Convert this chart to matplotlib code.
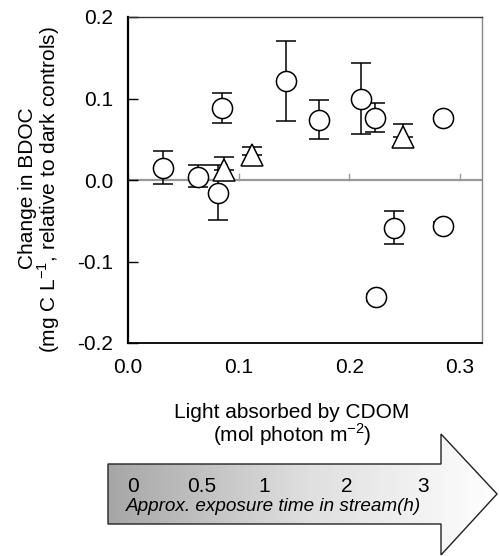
import numpy as np
import matplotlib
matplotlib.use("Agg")
import matplotlib.pyplot as plt
from matplotlib.patches import Polygon
from matplotlib.colors import LinearSegmentedColormap

plt.rcParams['font.family'] = ['Liberation Sans', 'DejaVu Sans']
plt.rcParams['mathtext.fontset'] = 'custom'
plt.rcParams['mathtext.rm'] = 'Liberation Sans'

# circles: light absorbed, change in BDOC, lower / upper error
circ_x = [0.032, 0.063, 0.081, 0.085, 0.143, 0.173, 0.211, 0.223, 0.285, 0.240, 0.224, 0.285]
circ_y = [0.015, 0.004, -0.016, 0.088, 0.122, 0.074, 0.099, 0.076, 0.076, -0.059, -0.144, -0.056]
circ_lo = [0.020, 0.013, 0.033, 0.018, 0.049, 0.024, 0.042, 0.017, 0.004, 0.020, 0.004, 0.004]
circ_hi = [0.021, 0.014, 0.034, 0.019, 0.049, 0.024, 0.045, 0.018, 0.004, 0.021, 0.004, 0.004]

# triangles
tri_x = [0.087, 0.112, 0.249]
tri_y = [0.012, 0.031, 0.053]
tri_lo = [0.0, 0.0, 0.0]
tri_hi = [0.016, 0.009, 0.016]

xticks = [0.0, 0.1, 0.2, 0.3]
yticks = [-0.2, -0.1, 0.0, 0.1, 0.2]

hours = ["0", "0.5", "1", "2", "3"]
hour_px = [133, 202, 264, 347, 423]

FS = 15
W, H = 499, 556
fig = plt.figure(figsize=(W / 100, H / 100), dpi=100)
ax = fig.add_axes([128 / W, 1 - 343 / H, (482 - 128) / W, (343 - 17) / H])

ax.axhline(0, color='#999999', lw=1.6, zorder=1)

ax.errorbar(circ_x, circ_y, yerr=[circ_lo, circ_hi], fmt='none', ecolor='black',
            elinewidth=1.1, capsize=7, capthick=1.1, zorder=2)
ax.errorbar(tri_x, tri_y, yerr=[tri_lo, tri_hi], fmt='none', ecolor='black',
            elinewidth=1.1, capsize=7, capthick=1.1, zorder=2)
ax.plot(circ_x, circ_y, 'o', ms=14.5, mfc='white', mec='black', mew=1.1, zorder=3)
ax.plot(tri_x, tri_y, '^', ms=15.5, mfc='white', mec='black', mew=1.1, zorder=3)

ax.set_xlim(0, 0.32)
ax.set_ylim(-0.2, 0.2)
ax.set_yticks(yticks)
ax.set_yticklabels([f"{v:.1f}" for v in yticks], fontsize=FS)
ax.set_xticks([])
ax.tick_params(axis='y', direction='in', length=7, width=1, pad=10.5)

# x tick marks sit on the zero line, labels below the frame
for v in xticks:
    ax.plot([v, v], [0, 0.007], color='#999999', lw=1, zorder=1, clip_on=False)
    ax.text(v, -0.23, f"{v:.1f}", ha='center', va='center', fontsize=FS)

ax.spines['left'].set_linewidth(1.6)
ax.spines['bottom'].set_linewidth(1.3)
ax.spines['top'].set_linewidth(1.0)
ax.spines['top'].set_color('#333333')
ax.spines['right'].set_linewidth(1.0)
ax.spines['right'].set_color('#888888')

# overlay in pixel coords for the axis labels and the arrow
ov = fig.add_axes([0, 0, 1, 1])
ov.axis('off')

ov.text(33, 188, "Change in BDOC", rotation=90, rotation_mode='anchor',
        ha='center', va='baseline', fontsize=FS)
ov.text(56, 190, "(mg C L$^{\\mathrm{-1}}$, relative to dark controls)", rotation=90,
        rotation_mode='anchor', ha='center', va='baseline', fontsize=FS)

ov.text(292, 418, "Light absorbed by CDOM", ha='center', va='baseline', fontsize=FS)
ov.text(292, 442, "(mol photon m$^{\\mathrm{-2}}$)", ha='center', va='baseline', fontsize=FS)

pts = [(108, 464), (441, 464), (441, 434), (497, 494), (441, 555), (441, 524), (108, 524)]
arrow = Polygon(pts, closed=True, fc='none', ec='#222222', lw=1.0, zorder=3)
ov.add_patch(arrow)
cmap = LinearSegmentedColormap.from_list('g', [(0, '#a6a6a6'), (0.5, '#dedede'), (1, '#ffffff')])
grad = np.linspace(0, 1, 256).reshape(1, -1)
img = ov.imshow(grad, extent=(108, 497, 555, 434), cmap=cmap, aspect='auto', zorder=2)
img.set_clip_path(Polygon(pts, closed=True, transform=ov.transData))
ov.set_xlim(0, W)
ov.set_ylim(H, 0)

for lab, px in zip(hours, hour_px):
    ov.text(px, 492, lab, ha='center', va='baseline', fontsize=FS, zorder=4)
ov.text(126, 511, "Approx. exposure time in stream(h)", ha='left', va='baseline',
        fontsize=13.6, style='italic', zorder=4)

fig.savefig("out.png", dpi=100)
